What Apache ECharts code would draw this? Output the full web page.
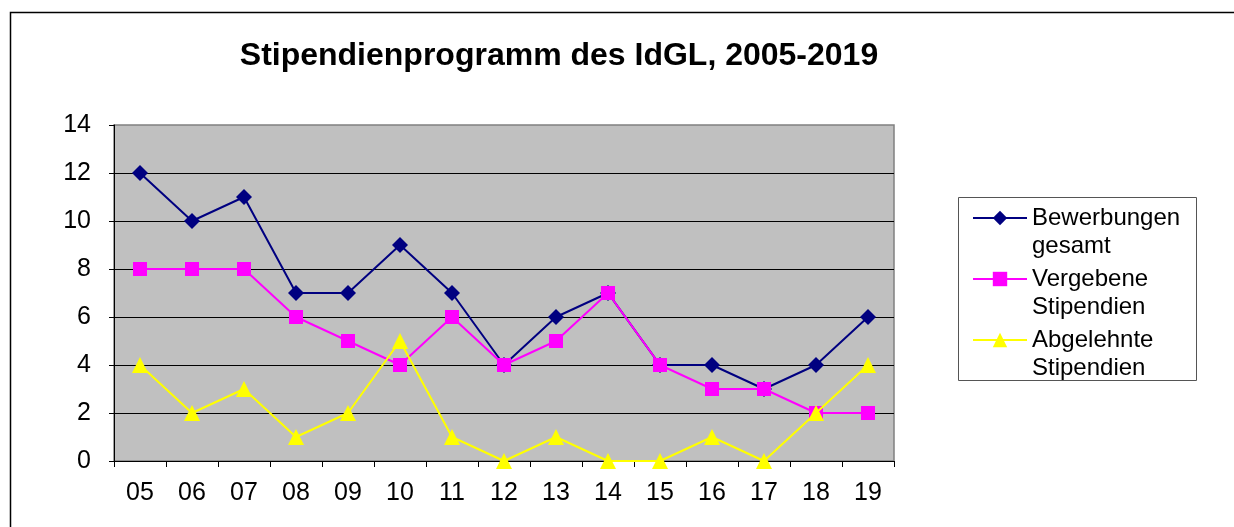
<!DOCTYPE html>
<html>
<head>
<meta charset="utf-8">
<title>Stipendienprogramm des IdGL</title>
<script src="https://cdn.jsdelivr.net/npm/echarts@6/dist/echarts.min.js"></script>
<style>
  html, body { margin: 0; padding: 0; background: #fff; }
  #chart { width: 1234px; height: 527px; }
</style>
</head>
<body>
<div id="chart"></div>
<script>
// Jahre 2005-2019
var jahre = ['05','06','07','08','09','10','11','12','13','14','15','16','17','18','19'];
var bewerbungen = [12,10,11,7,7,9,7,4,6,7,4,4,3,4,6];
var vergeben    = [8,8,8,6,5,4,6,4,5,7,4,3,3,2,2];
var abgelehnt   = [4,2,3,1,2,5,1,0,1,0,0,1,0,2,4];
// leere erste Zeile, damit das Symbol neben der ersten Textzeile sitzt
var legendText = {
    'Bewerbungen gesamt': ' \nBewerbungen\ngesamt',
    'Vergebene Stipendien': ' \nVergebene\nStipendien',
    'Abgelehnte Stipendien': ' \nAbgelehnte\nStipendien'
};

var font = 'Liberation Sans, Arial, sans-serif';
var myChart = echarts.init(document.getElementById('chart'));

var option = {
    animation: false,
    title: {
        text: 'Stipendienprogramm des IdGL, 2005-2019',
        left: 554,
        textAlign: 'center',
        top: 35,
        textStyle: { fontFamily: font, fontSize: 32, fontWeight: 'bold', color: '#000' }
    },
    graphic: [
        { type: 'rect', shape: { x: 10.5, y: 12.5, width: 1400, height: 700 },
          style: { fill: 'none', stroke: '#000', lineWidth: 1.5 }, z: -10 },
        { type: 'rect', shape: { x: 958.5, y: 197.5, width: 238, height: 183 },
          style: { fill: '#fff', stroke: '#555', lineWidth: 1 }, z: -5 }
    ],
    legend: {
        orient: 'vertical',
        left: 972,
        top: 176,
        padding: 0,
        itemGap: -23,
        itemWidth: 54,
        itemHeight: 18,
        itemStyle: { borderWidth: 0 },
        textStyle: { fontFamily: font, fontSize: 24, color: '#000', lineHeight: 28 },
        formatter: function (name) { return legendText[name]; },
        data: ['Bewerbungen gesamt', 'Vergebene Stipendien', 'Abgelehnte Stipendien']
    },
    grid: {
        left: 114, right: 340, top: 125, bottom: 66,
        show: true,
        backgroundColor: '#c0c0c0',
        borderColor: '#808080',
        borderWidth: 1.5
    },
    xAxis: {
        type: 'category',
        data: jahre,
        boundaryGap: true,
        axisLine: { lineStyle: { color: '#000', width: 1 } },
        axisTick: { show: true, length: 6, lineStyle: { color: '#000' } },
        axisLabel: { fontFamily: font, fontSize: 25, color: '#000', margin: 20 }
    },
    yAxis: {
        type: 'value',
        min: 0, max: 14, interval: 2,
        axisLine: { show: true, lineStyle: { color: '#000', width: 1 } },
        axisTick: { show: true, length: 5, lineStyle: { color: '#000' } },
        axisLabel: { fontFamily: font, fontSize: 25, color: '#000', margin: 23 },
        splitLine: { show: true, showMaxLine: false, lineStyle: { color: '#000', width: 1 } }
    },
    series: [
        {
            name: 'Bewerbungen gesamt', type: 'line', data: bewerbungen,
            symbol: 'diamond', symbolSize: 16,
            lineStyle: { color: '#000080', width: 2 },
            itemStyle: { color: '#000080' }, z: 3
        },
        {
            name: 'Vergebene Stipendien', type: 'line', data: vergeben,
            symbol: 'rect', symbolSize: 14,
            lineStyle: { color: '#ff00ff', width: 2 },
            itemStyle: { color: '#ff00ff' }, z: 4
        },
        {
            name: 'Abgelehnte Stipendien', type: 'line', data: abgelehnt,
            symbol: 'triangle', symbolSize: 16,
            lineStyle: { color: '#ffff00', width: 2 },
            itemStyle: { color: '#ffff00' }, z: 5
        }
    ]
};
myChart.setOption(option);
</script>
</body>
</html>
